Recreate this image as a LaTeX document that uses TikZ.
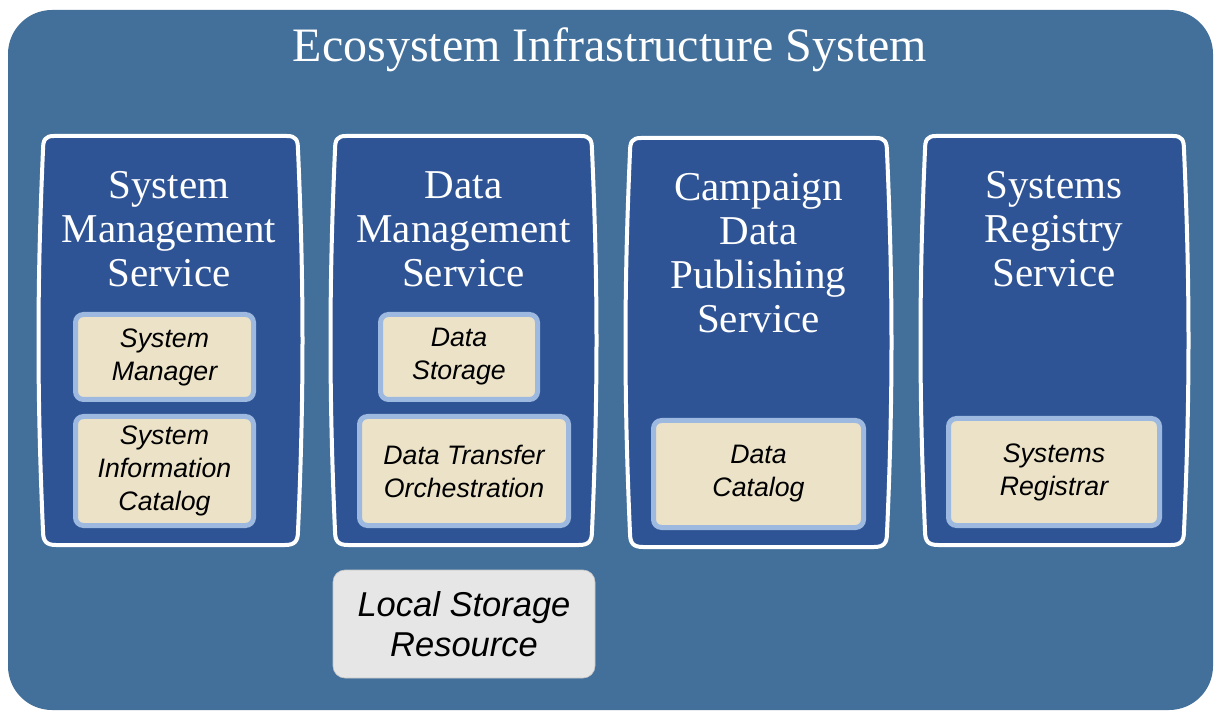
\documentclass[tikz,border=0pt]{standalone}
\usepackage{fontspec}
\setmainfont{Liberation Serif}
\newfontfamily\helv{Liberation Sans}
\definecolor{ecoblue}{HTML}{43709B}
\definecolor{svcblue}{HTML}{2E5495}
\definecolor{beige}{HTML}{EBE2C8}
\definecolor{lightedge}{HTML}{9DB9E0}
\definecolor{lgray}{HTML}{E6E6E6}
\tikzset{
  ecobox/.style={fill=ecoblue, draw=none, rounded corners=44pt, minimum width=1205pt, minimum height=700pt, inner sep=0pt},
  svc/.style={fill=svcblue, draw=white, line width=4pt},
  ttl/.style={text=white, font=\fontsize{48}{56}\selectfont, inner sep=0pt},
  svctext/.style={text=white, align=center, font=\fontsize{41}{44}\selectfont, inner sep=0pt},
  comp/.style={fill=beige, draw=lightedge, line width=5pt, rounded corners=8pt, align=center, inner sep=0pt, font=\helv\itshape\fontsize{26.7}{33}\selectfont},
  localres/.style={fill=lgray, draw=gray!45, line width=0.6pt, rounded corners=12pt, align=center, inner sep=0pt, font=\helv\itshape\fontsize{34.5}{40}\selectfont}
}
\newcommand\svcshape[4]{%
 \draw[svc] ({#1+14},#2) -- ({#3-14},#2)
  .. controls ({#3-5},#2) and ({#3-3},{#2+4}) .. ({#3-3},{#2+14})
  .. controls ({#3+3},{#2+150}) and ({#3+3},{#4-150}) .. ({#3-3},{#4-14})
  .. controls ({#3-3},{#4-4}) and ({#3-6},#4) .. ({#3-16},#4)
  -- ({#1+16},#4)
  .. controls ({#1+6},#4) and ({#1+3},{#4-4}) .. ({#1+3},{#4-14})
  .. controls ({#1-3},{#4-150}) and ({#1-3},{#2+150}) .. ({#1+3},{#2+14})
  .. controls ({#1+3},{#2+4}) and ({#1+5},#2) .. ({#1+14},#2) -- cycle;}
\begin{document}
\begin{tikzpicture}[x=1pt,y=-1pt]
\useasboundingbox (0,0) rectangle (1219,719);
\fill[white] (0,0) rectangle (1219,719);
\node[ecobox] (eco) at (610.5,360) {};
\node[ttl] (title) at (610,50) {Ecosystem Infrastructure System};

\svcshape{40}{136}{301}{545}
\svcshape{332}{136}{595}{545}
\svcshape{627}{138}{890}{547}
\svcshape{922}{136}{1187}{545}

\node[svctext] (sms) at (169,229) {System\\Management\\Service};
\node[svctext] (dms) at (463.5,229) {Data\\Management\\Service};
\node[svctext] (cdps) at (758.5,253) {Campaign\\Data\\Publishing\\Service};
\node[svctext] (srs) at (1054,229) {Systems\\Registry\\Service};

\node[comp, minimum width=178pt, minimum height=85pt] (sm) at (164.5,357) {System\\Manager};
\node[comp, minimum width=178pt, minimum height=109pt] (sic) at (164.5,471) {System\\Information\\Catalog};
\node[comp, minimum width=157pt, minimum height=85pt] (ds) at (459,357) {Data\\Storage};
\node[comp, minimum width=209pt, minimum height=109pt] (dto) at (464,471) {Data Transfer\\Orchestration};
\node[comp, minimum width=210pt, minimum height=107pt] (dc) at (758.5,474) {Data\\Catalog};
\node[comp, minimum width=211pt, minimum height=107pt] (sr) at (1054,472) {Systems\\Registrar};

\node[localres, minimum width=262pt, minimum height=108pt] (lsr) at (464,624) {Local Storage\\Resource};
\end{tikzpicture}
\end{document}
